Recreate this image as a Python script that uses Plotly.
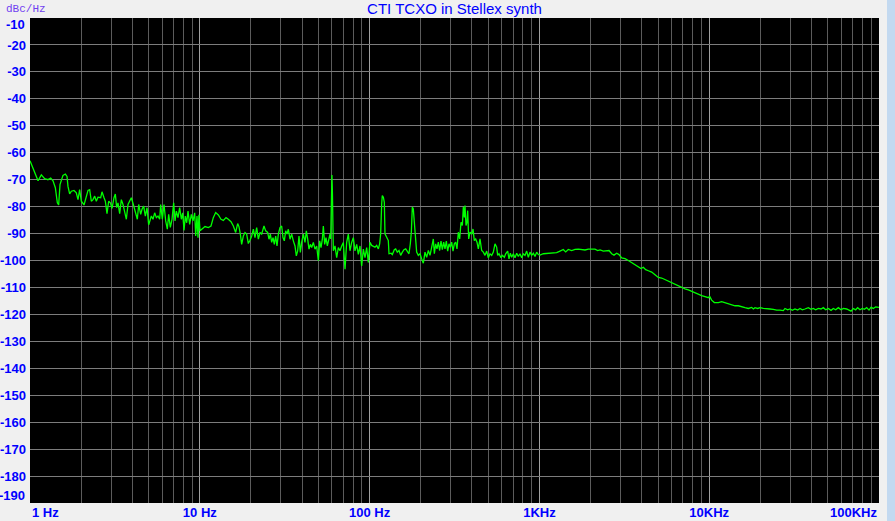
import plotly.graph_objects as go

# ---- data (frequency in Hz, phase noise in dBc/Hz) ----
f_dec1 = [1.0, 1.05, 1.115, 1.166, 1.220, 1.276, 1.324, 1.366, 1.410, 1.449, 1.475, 1.502, 1.529, 1.564, 1.615, 1.652, 1.674, 1.712, 1.752, 1.816,
          1.874, 1.917, 1.961, 2.006, 2.080, 2.147, 2.196, 2.246, 2.297, 2.350, 2.404, 2.458, 2.515, 2.608, 2.655, 2.728, 2.778, 2.841, 2.906, 2.973,
          3.040, 3.124, 3.181, 3.239, 3.298, 3.374, 3.451, 3.530, 3.610, 3.693, 3.777, 3.863, 3.952, 4.060, 4.172, 4.287, 4.366, 4.485, 4.567, 4.672,
          4.778, 4.888, 5.000, 5.091, 5.183, 5.302, 5.423, 5.547, 5.674, 5.804, 5.883, 6.016, 6.155, 6.296, 6.439, 6.557, 6.706, 6.860, 7.017, 7.145,
          7.275, 7.441, 7.611, 7.785, 7.928, 8.072, 8.219, 8.370, 8.522, 8.717, 8.916, 9.120, 9.329, 9.456, 9.628, 9.760, 9.890]
l_dec1 = [-63.0, -66.3, -70.4, -68.2, -69.6, -70.0, -69.4, -70.4, -73.0, -78.6, -79.4, -71.8, -70.4, -68.4, -67.9, -68.8, -72.5, -75.3, -74.3, -74.0,
          -74.9, -77.4, -73.7, -78.0, -79.4, -76.7, -74.0, -73.7, -78.0, -77.4, -76.1, -78.0, -76.5, -76.7, -74.5, -76.7, -78.0, -82.6, -78.0, -78.6,
          -80.7, -76.7, -75.3, -80.4, -78.6, -82.6, -77.4, -79.2, -82.3, -84.7, -79.2, -78.0, -76.7, -79.2, -82.3, -84.7, -79.2, -82.9, -81.0, -79.8,
          -83.5, -80.4, -86.8, -85.3, -83.5, -84.7, -82.3, -84.1, -83.5, -84.7, -79.2, -84.7, -79.2, -85.3, -88.4, -82.9, -87.7, -84.7, -78.6, -85.3,
          -81.7, -84.1, -80.4, -84.7, -82.3, -88.8, -83.5, -86.0, -81.7, -86.6, -82.9, -85.3, -82.3, -90.9, -83.5, -91.5, -83.0]

f_dec2 = [10.03, 10.25, 10.73, 11.23, 11.64, 12.01, 12.40, 12.86, 13.33, 13.76, 14.27, 14.72, 15.27, 15.76, 16.26, 16.71, 17.02, 17.33, 17.64, 18.05,
          18.46, 18.88, 19.31, 19.76, 20.21, 20.67, 21.14, 21.62, 22.12, 22.62, 23.14, 23.88, 24.43, 25.10, 25.56, 26.03, 26.50, 26.99, 27.48, 27.98,
          28.49, 29.01, 29.67, 30.35, 30.90, 31.47, 32.04, 32.62, 33.22, 33.98, 34.76, 35.55, 36.36, 37.02, 37.70, 38.39, 39.09, 39.81, 40.72, 41.64,
          42.40, 43.18, 43.97, 44.77, 45.59, 46.63, 47.70, 48.79, 49.90, 50.81, 51.74, 52.68, 53.40, 54.38, 55.37, 56.38, 57.67, 58.45, 59.0, 59.6,
          60.0, 60.4, 60.8, 61.15, 62.55, 64.0, 65.45, 66.95, 68.48, 70.04, 71.65, 73.28, 74.95, 76.67, 78.42, 80.20, 82.04, 83.92, 85.84, 87.80,
          89.81, 91.85, 93.96, 96.11, 98.30, 99.3]
l_dec2 = [-89.0, -88.4, -87.4, -87.8, -87.2, -84.1, -82.2, -83.1, -84.7, -85.1, -84.1, -84.7, -85.6, -87.2, -89.6, -86.3, -87.5, -90.2, -94.0, -90.9,
          -89.6, -90.2, -93.7, -92.5, -90.9, -88.4, -91.5, -87.8, -92.1, -89.6, -90.2, -87.2, -89.0, -89.6, -92.1, -90.2, -93.3, -91.5, -94.0, -90.9,
          -94.6, -90.2, -87.8, -87.2, -91.5, -92.7, -89.0, -90.2, -88.4, -92.1, -90.2, -92.7, -94.6, -98.3, -96.4, -90.9, -97.0, -93.3, -90.2, -93.3,
          -89.0, -92.1, -95.8, -94.0, -95.2, -93.3, -95.8, -94.6, -100.1, -92.7, -95.2, -92.1, -87.2, -94.0, -91.5, -94.6, -92.1, -90.2, -92.0, -77.0,
          -68.3, -75.0, -94.0, -96.4, -94.6, -98.9, -95.2, -96.4, -94.6, -93.3, -103.2, -93.3, -90.2, -96.4, -93.3, -91.5, -96.4, -94.0, -97.7, -94.6,
          -102.0, -95.8, -98.9, -95.2, -100.7, -96.0]

f_dec3 = [100.5, 102.8, 105.2, 107.6, 110.1, 112.6, 114.6, 116.2, 117.8, 118.8, 120.5, 122.1, 123.2, 126.0, 128.9, 130.1, 133.7, 136.1, 139.8, 142.4,
          145.6, 149.0, 152.4, 155.9, 159.4, 163.1, 166.8, 170.6, 173.7, 176.1, 178.5, 180.9, 183.4, 186.8, 189.3, 193.6, 198.1, 202.6, 207.2, 212.0,
          216.8, 221.8, 226.8, 232.0, 237.3, 240.6, 245.0, 249.4, 254.0, 258.6, 263.4, 268.1, 273.1, 278.0, 283.1, 288.3, 293.5, 298.9, 304.3, 309.9,
          315.5, 321.3, 327.1, 333.1, 339.2, 345.4, 351.7, 356.5, 361.3, 364.6, 369.6, 374.6, 378.1, 383.3, 390.2, 399.2, 406.4, 413.8, 421.4, 429.1,
          436.9, 447.0, 457.1, 467.6, 478.3, 489.2, 500.4, 511.8, 523.6, 535.5, 547.7, 560.3, 567.9, 578.3, 594.1, 604.9, 621.6, 633.0, 650.4, 662.2,
          674.2, 686.6, 702.2, 718.3, 734.8, 751.6, 768.7, 786.3, 804.2, 822.7, 841.5, 860.6, 880.4, 900.5, 921.0, 942.2, 963.7, 985.7]
l_dec3 = [-93.2, -94.4, -94.8, -95.1, -94.4, -95.7, -93.8, -90.1, -79.0, -75.9, -76.5, -78.4, -90.1, -91.1, -92.6, -97.5, -97.3, -97.8, -96.0, -95.7,
          -96.9, -96.3, -98.1, -96.9, -96.0, -95.7, -96.9, -97.5, -93.8, -89.5, -80.2, -80.9, -85.8, -90.7, -96.9, -98.1, -97.5, -99.4, -101.0, -96.9,
          -98.8, -96.3, -98.1, -95.1, -92.0, -97.5, -93.8, -95.7, -93.2, -96.3, -92.8, -96.0, -93.2, -95.7, -92.8, -96.5, -93.8, -95.1, -93.2, -96.5,
          -93.8, -93.2, -95.7, -89.5, -92.0, -85.8, -87.0, -80.2, -84.0, -79.6, -87.0, -85.8, -81.5, -92.0, -89.5, -90.1, -88.3, -92.6, -92.0, -93.2,
          -95.7, -92.0, -96.3, -96.9, -98.1, -96.5, -99.0, -97.5, -98.1, -96.9, -93.8, -95.1, -98.1, -97.5, -99.0, -98.1, -98.8, -97.5, -96.5, -99.4,
          -97.3, -98.8, -97.5, -99.0, -97.3, -98.5, -97.5, -99.0, -97.5, -98.1, -96.5, -98.8, -96.9, -98.1, -97.3, -98.5, -96.9, -97.8]

f_dec4 = [1008, 1055, 1129, 1208, 1264, 1322, 1383, 1428, 1480, 1549, 1621, 1695, 1774, 1856, 1942, 2031, 2125, 2204, 2275, 2380,
          2490, 2570, 2665, 2750, 2852, 2943, 3052, 3193, 3340, 3495, 3656, 3825, 3966, 4094, 4226, 4381, 4584, 4796, 5017, 5249,
          5492, 5746, 6011, 6290, 6580, 6884, 7203, 7535, 7884, 8249, 8630, 9029, 9447, 9883]
l_dec4 = [-98.0, -97.5, -97.4, -97.4, -97.1, -96.5, -95.9, -96.8, -95.9, -96.3, -95.9, -95.8, -95.9, -96.1, -95.8, -95.9, -95.8, -96.3, -96.1, -96.5,
          -96.5, -96.3, -97.5, -98.0, -97.3, -97.8, -99.0, -99.3, -100.0, -100.8, -101.5, -102.1, -103.0, -102.5, -103.4, -103.8, -104.3, -105.3, -106.3, -106.5,
          -107.1, -107.8, -108.4, -108.8, -109.3, -110.0, -110.5, -110.9, -111.5, -112.1, -112.5, -113.0, -113.4, -113.8]

f_dec5 = [10060, 10340, 10720, 11320, 11840, 12390, 12960, 13560, 14190, 14840, 15530, 16250, 17000, 17790, 18190, 18610, 19300, 19920, 20830, 21800,
          22810, 23860, 24970, 26120, 27330, 27950, 28980, 29910, 30870, 32010, 33190, 34260, 35360, 36660, 38350, 39770, 41050, 42370, 43930, 45550,
          47010, 48520, 50310, 52170, 53840, 55580, 57620, 59740, 61660, 64510, 66580, 68410, 70600, 72880, 74880, 77290, 79770, 81970, 84610, 87330,
          89730, 92610, 95590, 99110, 100000]
l_dec5 = [-113.3, -114.7, -115.6, -115.6, -115.3, -115.7, -115.9, -116.3, -116.8, -116.8, -117.3, -117.5, -117.8, -117.4, -118.0, -117.5, -117.8, -117.5, -117.8, -117.8,
          -118.0, -118.1, -118.4, -118.4, -118.6, -117.8, -118.3, -118.0, -118.5, -118.0, -118.4, -117.8, -118.3, -118.0, -117.5, -118.1, -117.8, -118.3, -117.8, -118.0,
          -117.5, -118.3, -117.8, -118.5, -117.8, -118.3, -117.5, -118.3, -117.8, -118.0, -118.5, -118.8, -117.8, -118.3, -117.5, -118.3, -117.8, -118.1, -117.5, -118.4,
          -117.4, -117.8, -117.2, -117.6, -117.4]

x_tick_vals = [1, 10, 100, 1000, 10000, 100000]
x_tick_text = ["1 Hz", "10 Hz", "100 Hz", "1KHz", "10KHz", "100KHz"]
y_tick_vals = list(range(-10, -191, -10))

TITLE = "CTI TCXO in Stellex synth"
Y_UNIT = "dBc/Hz"

freqs = f_dec1 + f_dec2 + f_dec3 + f_dec4 + f_dec5
levels = l_dec1 + l_dec2 + l_dec3 + l_dec4 + l_dec5
assert len(freqs) == len(levels)

BLUE = "#0000ff"
FONT = "Liberation Sans"
TICKFONT = dict(family=FONT, size=13, color=BLUE, weight="bold")

fig = go.Figure()
fig.add_trace(go.Scatter(x=freqs, y=levels, mode="lines",
                         line=dict(color="#00ff00", width=1.3),
                         hoverinfo="skip", showlegend=False))

inner_text = [t if 0 < i < len(x_tick_text) - 1 else "" for i, t in enumerate(x_tick_text)]
y_text = [str(v) if v not in (y_tick_vals[0], y_tick_vals[-1]) else "" for v in y_tick_vals]

fig.update_layout(
    width=895, height=521,
    margin=dict(l=30, r=16, t=18, b=18, pad=0, autoexpand=False),
    paper_bgcolor="#f0f0f0", plot_bgcolor="#000000",
    showlegend=False,
    title=dict(text=TITLE, x=0.5, xref="paper", xanchor="center",
               y=1 - 8.5 / 521, yref="container", yanchor="middle",
               font=dict(family=FONT, size=15, color=BLUE)),
    xaxis=dict(type="log", range=[0, 5], tickmode="array", automargin=False,
               tickvals=x_tick_vals, ticktext=inner_text,
               showgrid=True, gridcolor="#a0a0a0", gridwidth=1,
               minor=dict(dtick="D1", showgrid=True, gridcolor="#5c5c5c", gridwidth=1, ticks=""),
               ticks="", zeroline=False, showline=False,
               tickfont=TICKFONT),
    yaxis=dict(range=[-190, -10], tickmode="array", automargin=False,
               tickvals=y_tick_vals, ticktext=y_text,
               showgrid=True, gridcolor="#7c7c7c", gridwidth=1,
               ticks="", zeroline=False, showline=False, ticklabelstandoff=3,
               tickfont=TICKFONT),
)

fig.add_annotation(x=0, xref="x", xanchor="left", y=0, yref="paper", yanchor="top",
                   yshift=0, text=x_tick_text[0], showarrow=False, font=TICKFONT)
fig.add_annotation(x=5, xref="x", xanchor="right", y=0, yref="paper", yanchor="top",
                   yshift=0, text=x_tick_text[-1], showarrow=False, font=TICKFONT)
fig.add_annotation(x=0, xref="paper", xanchor="right", xshift=-3,
                   y=y_tick_vals[0], yref="y", yanchor="middle", yshift=-6,
                   text=str(y_tick_vals[0]), showarrow=False, font=TICKFONT)
fig.add_annotation(x=0, xref="paper", xanchor="right", xshift=-3,
                   y=y_tick_vals[-1], yref="y", yanchor="middle", yshift=8,
                   text=str(y_tick_vals[-1]), showarrow=False, font=TICKFONT)
fig.add_annotation(x=-26 / 849, xref="paper", xanchor="left",
                   y=1 + 9.5 / 485, yref="paper", yanchor="middle",
                   text=Y_UNIT, showarrow=False,
                   font=dict(family="Liberation Mono", size=11, color="#7040f0"))

# window border strip at the right edge
fig.add_shape(type="rect", xref="paper", yref="paper",
              x0=(887 - 30) / 849, x1=(896 - 30) / 849, y0=-20 / 485, y1=1 + 20 / 485,
              fillcolor="#c3d9f0", line=dict(width=0), layer="above")

fig.write_html("out.html", config=dict(displayModeBar=False),
               post_script="document.body.style.margin='0';document.body.style.overflow='hidden';")
